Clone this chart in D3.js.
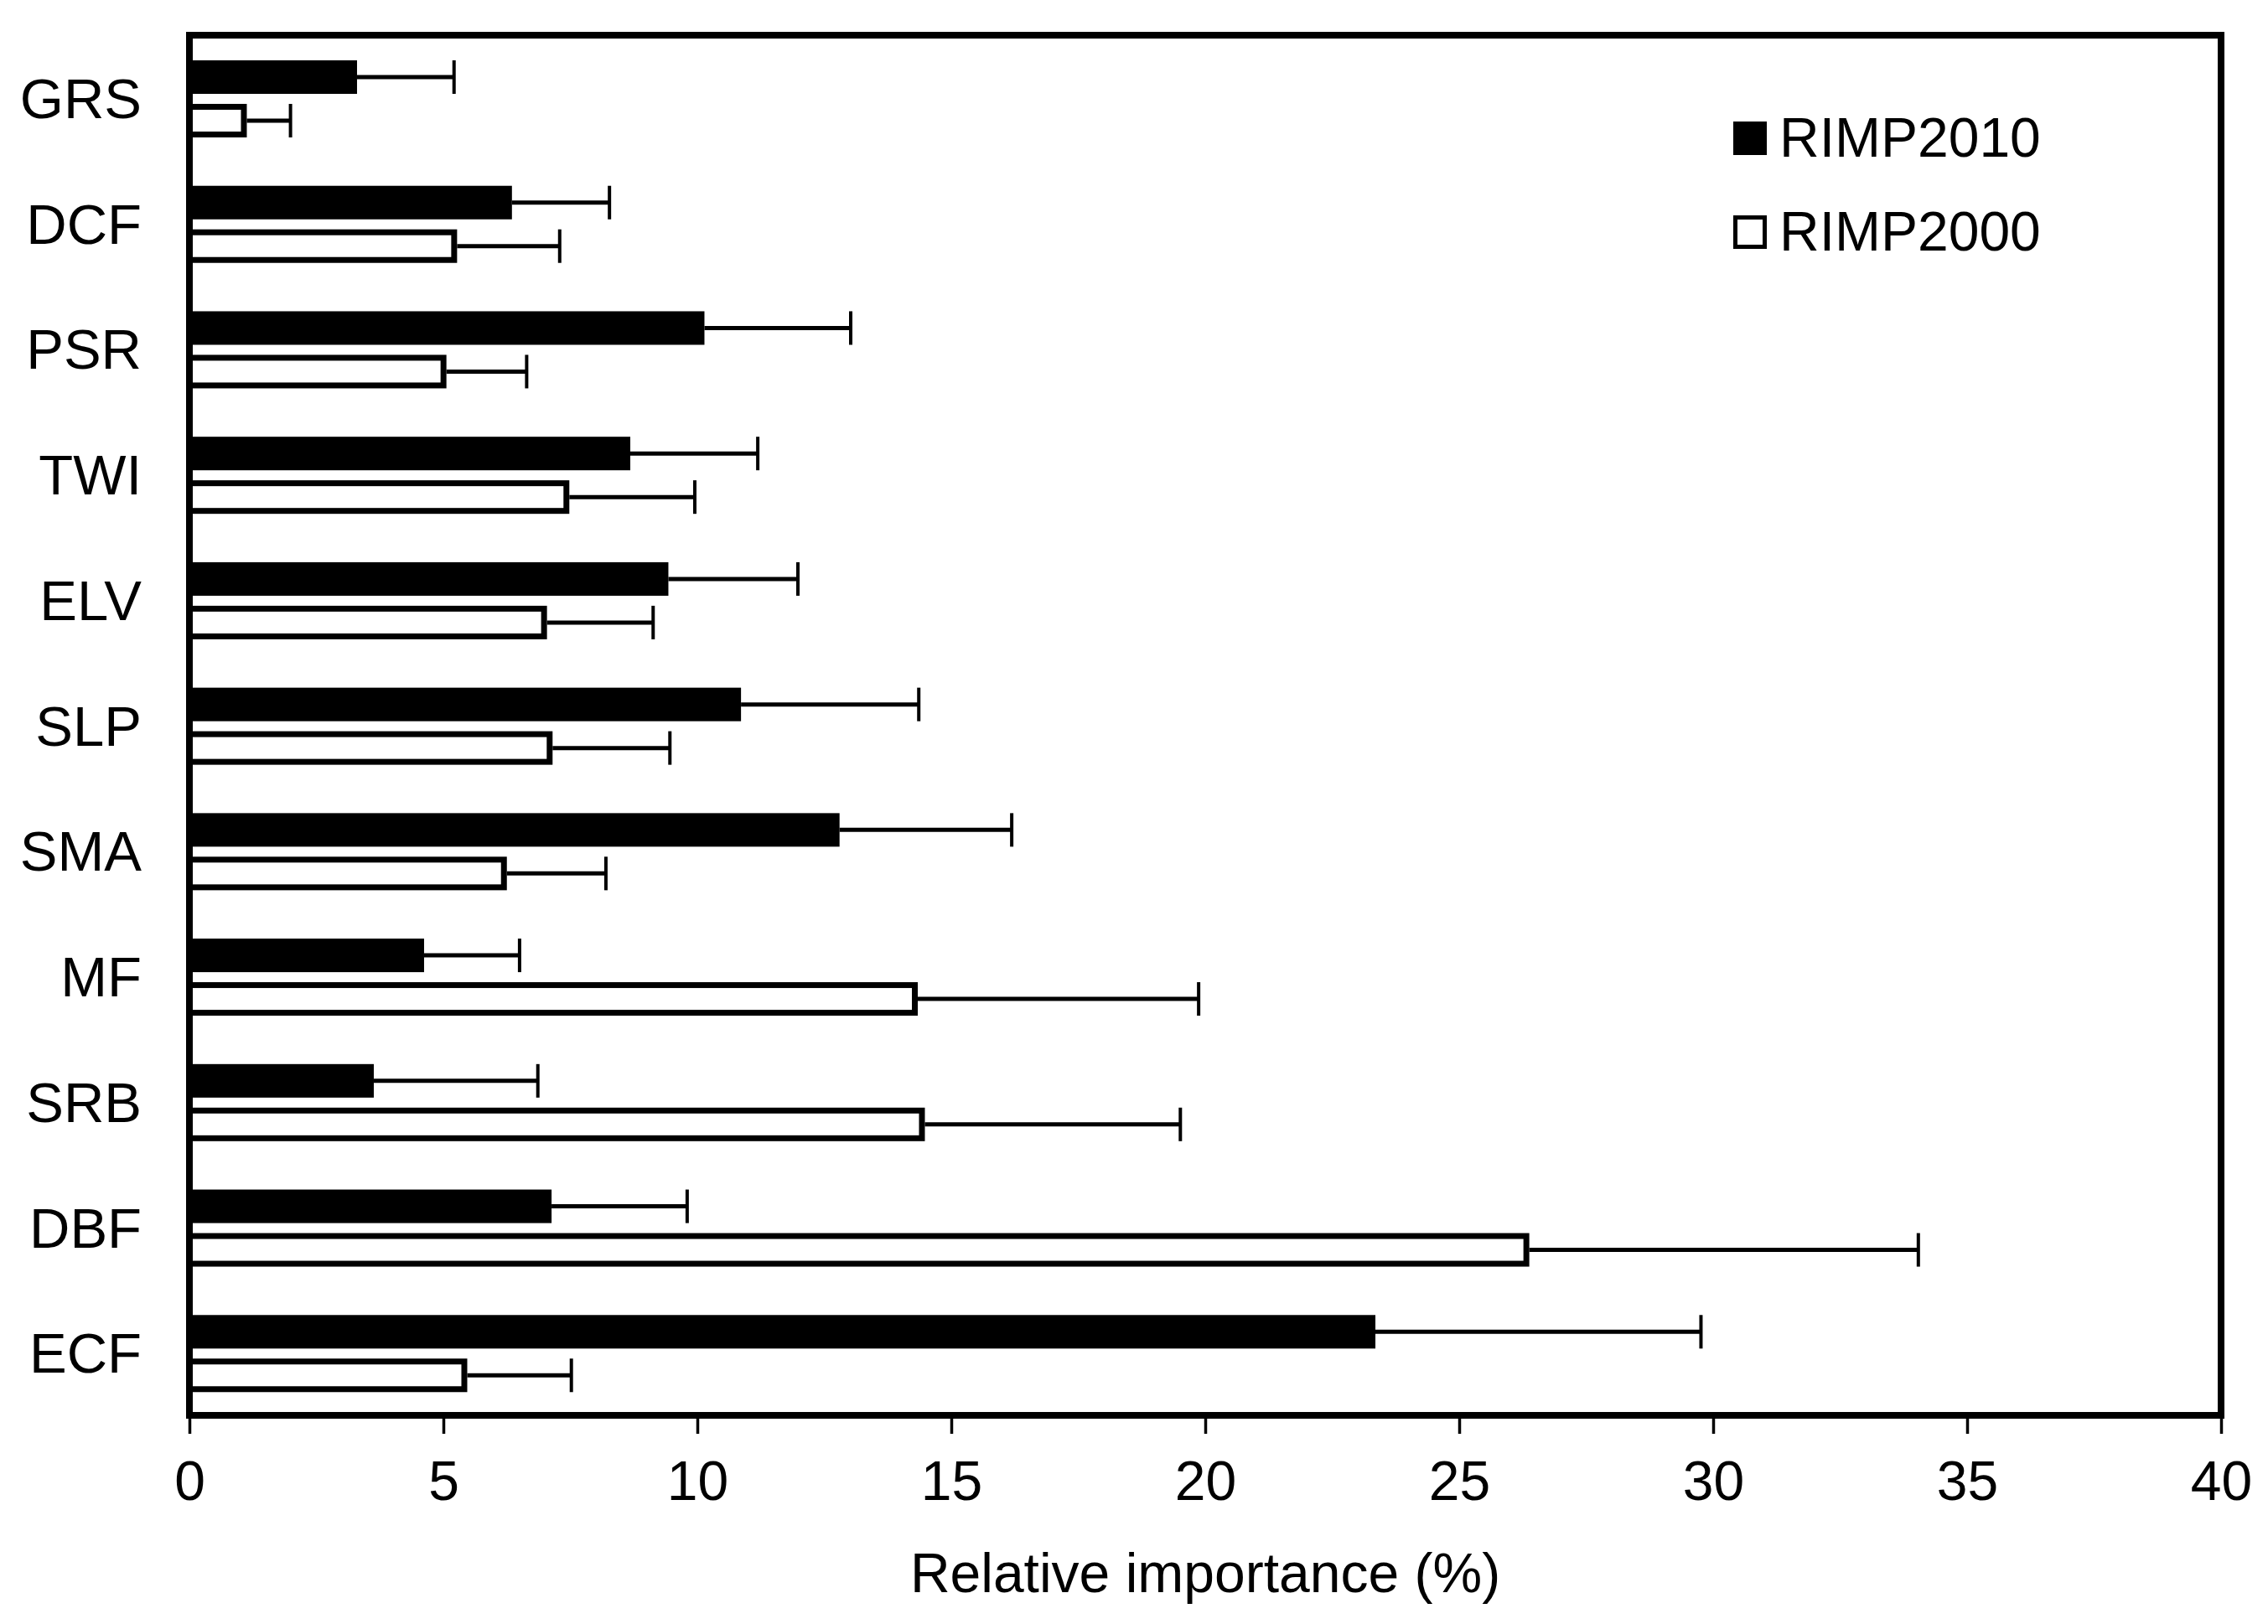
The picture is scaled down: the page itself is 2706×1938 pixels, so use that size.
<!DOCTYPE html>
<html>
<head>
<meta charset="utf-8">
<script src="https://cdn.jsdelivr.net/npm/d3@7"></script>
<style>
  body { margin: 0; background: #fff; }
  svg text { font-family: Arial, "Liberation Sans", sans-serif; fill: #000; }
</style>
</head>
<body>
<svg id="chart" width="2706" height="1938"></svg>
<script>
// categories, top to bottom
var categories = ["GRS", "DCF", "PSR", "TWI", "ELV", "SLP", "SMA", "MF", "SRB", "DBF", "ECF"];
var seriesNames = ["RIMP2010", "RIMP2000"];

// relative importance (%) and the error bar length
var rimp2010 = [3.30, 6.35, 10.14, 8.68, 9.43, 10.86, 12.80, 4.62, 3.63, 7.13, 23.35];
var rimp2010Err = [1.91, 1.92, 2.88, 2.51, 2.55, 3.50, 3.39, 1.88, 3.23, 2.67, 6.41];
var rimp2000 = [1.13, 5.27, 5.06, 7.48, 7.04, 7.15, 6.25, 14.34, 14.48, 26.38, 5.47];
var rimp2000Err = [0.86, 2.02, 1.58, 2.47, 2.09, 2.31, 1.95, 5.53, 5.03, 7.66, 2.05];

var xTicks = [0, 5, 10, 15, 20, 25, 30, 35, 40];

var svg = d3.select("#chart");
// note: "top" is taken by window.top, so plot edges get their own names
var plotLeft = 226, plotRight = 2650, plotTop = 42, plotBottom = 1689;

var x = d3.scaleLinear().domain([0, 40]).range([plotLeft, plotRight]);
var y = d3.scaleBand().domain(categories).range([plotTop, plotBottom]);
var ySub = d3.scaleBand().domain(seriesNames).range([30, 122]).paddingInner(0.23);

var rows = [];
categories.forEach(function(c, i) {
  rows.push({cat: c, series: "RIMP2010", v: rimp2010[i], e: rimp2010Err[i]});
  rows.push({cat: c, series: "RIMP2000", v: rimp2000[i], e: rimp2000Err[i]});
});

var bar = svg.append("g").selectAll("g")
    .data(rows)
  .enter().append("g");

// bars
bar.append("rect")
    .attr("x", function(d) { return x(0); })
    .attr("y", function(d) {
      var t = y(d.cat) + ySub(d.series);
      return d.series == "RIMP2010" ? t : t + 3.5;
    })
    .attr("width", function(d) {
      var w = x(d.v) - x(0);
      return d.series == "RIMP2010" ? w : w - 3.5;
    })
    .attr("height", function(d) { return d.series == "RIMP2010" ? ySub.bandwidth() : ySub.bandwidth() - 7; })
    .attr("fill", function(d) { return d.series == "RIMP2010" ? "#000" : "#fff"; })
    .attr("stroke", function(d) { return d.series == "RIMP2010" ? "none" : "#000"; })
    .attr("stroke-width", 7);

// error bars
bar.append("line")
    .attr("x1", function(d) { return x(d.v); })
    .attr("x2", function(d) { return x(d.v + d.e); })
    .attr("y1", function(d) { return y(d.cat) + ySub(d.series) + ySub.bandwidth() / 2; })
    .attr("y2", function(d) { return y(d.cat) + ySub(d.series) + ySub.bandwidth() / 2; })
    .attr("stroke", "#000")
    .attr("stroke-width", 5);

bar.append("line")
    .attr("x1", function(d) { return x(d.v + d.e); })
    .attr("x2", function(d) { return x(d.v + d.e); })
    .attr("y1", function(d) { return y(d.cat) + ySub(d.series); })
    .attr("y2", function(d) { return y(d.cat) + ySub(d.series) + ySub.bandwidth(); })
    .attr("stroke", "#000")
    .attr("stroke-width", 4);

// x axis
var xAxis = svg.append("g")
    .attr("transform", "translate(0," + plotBottom + ")")
    .call(d3.axisBottom(x).tickValues(xTicks).tickSize(22).tickFormat(d3.format("d")));
xAxis.select(".domain").remove();
xAxis.selectAll(".tick line").attr("stroke", "#000").attr("stroke-width", 3.5);
xAxis.selectAll(".tick text")
    .attr("y", 101)
    .attr("dy", 0)
    .style("font-size", "66px");

// y axis
var yAxis = svg.append("g")
    .attr("transform", "translate(" + plotLeft + ",0)")
    .call(d3.axisLeft(y).tickSize(0).tickPadding(57));
yAxis.select(".domain").remove();
yAxis.selectAll(".tick text")
    .attr("dy", "0.36em")
    .style("font-size", "67px");

// frame
svg.append("rect")
    .attr("x", plotLeft)
    .attr("y", plotTop)
    .attr("width", plotRight - plotLeft)
    .attr("height", plotBottom - plotTop)
    .attr("fill", "none")
    .attr("stroke", "#000")
    .attr("stroke-width", 8);

// axis title
svg.append("text")
    .attr("x", (plotLeft + plotRight) / 2)
    .attr("y", 1900)
    .attr("text-anchor", "middle")
    .style("font-size", "66px")
    .text("Relative importance (%)");

// legend
var legend = svg.append("g").selectAll("g")
    .data(seriesNames)
  .enter().append("g")
    .attr("transform", function(d, i) { return "translate(2068," + (145 + i * 112) + ")"; });

legend.append("rect")
    .attr("x", function(d) { return d == "RIMP2010" ? 0 : 2.5; })
    .attr("y", function(d) { return d == "RIMP2010" ? 0 : 2.5; })
    .attr("width", function(d) { return d == "RIMP2010" ? 40 : 35; })
    .attr("height", function(d) { return d == "RIMP2010" ? 40 : 35; })
    .attr("fill", function(d) { return d == "RIMP2010" ? "#000" : "#fff"; })
    .attr("stroke", function(d) { return d == "RIMP2010" ? "none" : "#000"; })
    .attr("stroke-width", 5);

legend.append("text")
    .attr("x", 55)
    .attr("y", 42)
    .style("font-size", "66px")
    .text(function(d) { return d; });
</script>
</body>
</html>
